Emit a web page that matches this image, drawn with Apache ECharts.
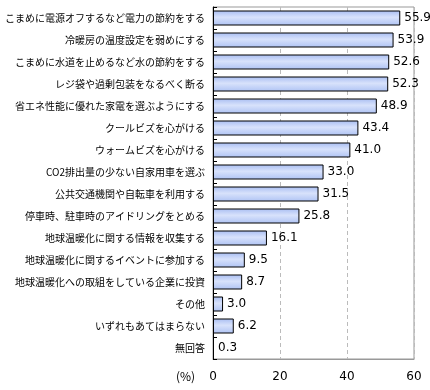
<!DOCTYPE html>
<html><head><meta charset="utf-8">
<script src="https://cdn.jsdelivr.net/npm/echarts@6/dist/echarts.min.js"></script>
<style>html,body{margin:0;padding:0;background:#fff}#c{width:430px;height:390px}</style>
</head><body><div id="c"></div>
<script>
const categories = [
 "こまめに電源オフするなど電力の節約をする",
 "冷暖房の温度設定を弱めにする",
 "こまめに水道を止めるなど水の節約をする",
 "レジ袋や過剰包装をなるべく断る",
 "省エネ性能に優れた家電を選ぶようにする",
 "クールビズを心がける",
 "ウォームビズを心がける",
 "CO2排出量の少ない自家用車を選ぶ",
 "公共交通機関や自転車を利用する",
 "停車時、駐車時のアイドリングをとめる",
 "地球温暖化に関する情報を収集する",
 "地球温暖化に関するイベントに参加する",
 "地球温暖化への取組をしている企業に投資",
 "その他",
 "いずれもあてはまらない",
 "無回答"
];
const values = [55.9,53.9,52.6,52.3,48.9,43.4,41.0,33.0,31.5,25.8,16.1,9.5,8.7,3.0,6.2,0.3];
const xTicks = [0,20,40,60];

const chart = echarts.init(document.getElementById('c'), null, {renderer:'canvas'});
chart.setOption({
  animation:false,
  grid:{left:213,right:16,top:7,bottom:31,show:true,borderColor:'#999',borderWidth:1,
    containLabel:false,outerBoundsMode:'none'},
  xAxis:{type:'value',min:xTicks[0],max:xTicks[xTicks.length-1],interval:20,
    axisLine:{show:true,lineStyle:{color:'#999'}},
    axisTick:{show:false},
    axisLabel:{color:'#000',fontSize:12,margin:12,fontFamily:'DejaVu Sans'},
    splitLine:{show:true,lineStyle:{color:'#bbb',type:[4,3]}}},
  yAxis:{type:'category',data:categories,inverse:true,
    axisLine:{show:true,lineStyle:{color:'#000',width:1}},
    axisTick:{show:true,inside:true,length:4,lineStyle:{color:'#000'}},
    axisLabel:{color:'#000',fontSize:10,margin:8,fontFamily:'Noto Sans CJK JP'},
    splitLine:{show:false}},
  series:[{type:'bar',data:values,barWidth:15,
    itemStyle:{borderColor:'#000',borderWidth:1,
      color:new echarts.graphic.LinearGradient(0,0,0,1,[
        {offset:0,color:'#a8bdf2'},{offset:0.45,color:'#d8e2fb'},{offset:1,color:'#afc3f4'}])},
    label:{show:true,position:'right',distance:4,color:'#000',fontSize:12,fontFamily:'DejaVu Sans',
      formatter:p=>p.value.toFixed(1)}}],
  graphic:[{type:'text',left:176,top:370,style:{text:'(%)',fontSize:12,fill:'#000',fontFamily:'Noto Sans CJK JP'}}]
});
</script></body></html>
